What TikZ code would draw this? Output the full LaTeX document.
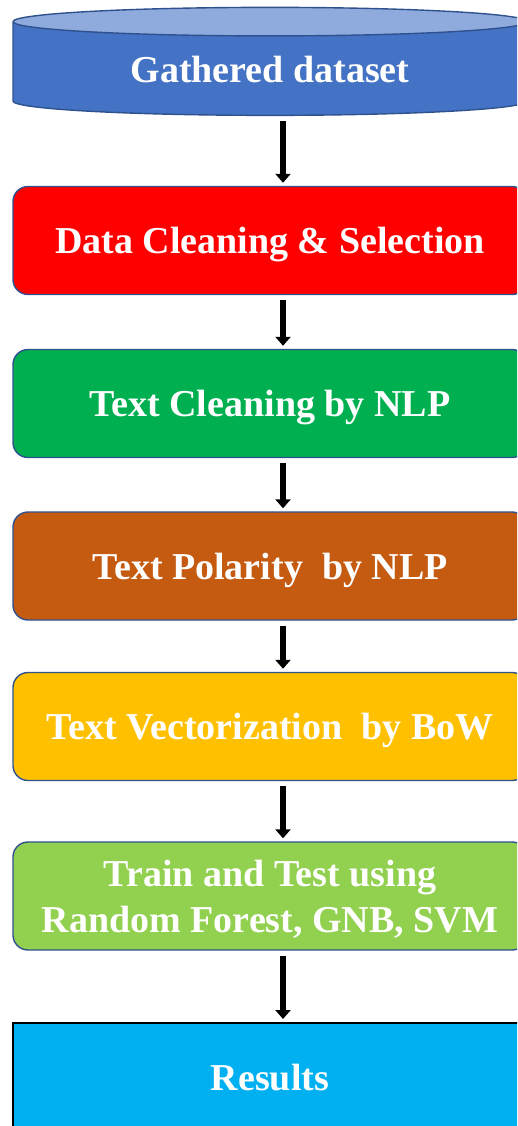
\documentclass[tikz,border=0pt]{standalone}
\usepackage{fontspec}
\setmainfont{Liberation Serif}
\usetikzlibrary{shapes.geometric}
\usetikzlibrary{arrows.meta}
\definecolor{cylbody}{HTML}{4472C4}
\definecolor{cyltop}{HTML}{8FAADC}
\definecolor{edgeblue}{HTML}{2F528F}
\definecolor{cleanred}{HTML}{FF0000}
\definecolor{nlpgreen}{HTML}{00B050}
\definecolor{polbrown}{HTML}{C55A11}
\definecolor{bowyellow}{HTML}{FFC000}
\definecolor{trainlime}{HTML}{92D050}
\definecolor{resblue}{HTML}{00B0F0}

\begin{document}
\begin{tikzpicture}[x=1pt, y=-1pt, >={Triangle[width=15pt,length=9pt]},
        stage/.style={rectangle, rounded corners=15pt, draw=edgeblue, line width=1.4pt,
            minimum width=514pt, minimum height=108pt, text=white, align=center, text depth=0pt,
            font=\bfseries\fontsize{38}{46}\selectfont},
        flow/.style={->, draw=black, line width=5.5pt, shorten <=5pt, shorten >=3pt}]
        \useasboundingbox (0,0) rectangle (517,1126);
        \clip (0,0) rectangle (517,1126);
        \node[cylinder, shape border rotate=90, aspect=0.1, draw=edgeblue, line width=1.4pt,
            cylinder uses custom fill, cylinder body fill=cylbody, cylinder end fill=cyltop,
            minimum width=514pt, minimum height=108pt, text=white,
            font=\bfseries\fontsize{38}{46}\selectfont] (data) at (270,70) {Gathered dataset};
        \node[stage, fill=cleanred] (select) at (270,240.5) {Data Cleaning \& Selection};
        \node[stage, fill=nlpgreen] (clean) at (270,403.5) {Text Cleaning by NLP};
        \node[stage, fill=polbrown] (polar) at (270,566) {Text Polarity\hspace{0.25em} by NLP};
        \node[stage, fill=bowyellow] (bow) at (270,726.5) {Text Vectorization\hspace{0.25em} by BoW};
        \node[stage, fill=trainlime] (train) at (270,896) {Train and Test using\\Random Forest, GNB, SVM};
        \node[stage, rounded corners=0pt, draw=black, line width=2pt, fill=resblue] (result) at (270,1077) {Results};

        \draw ([xshift=13pt]data.south) edge[flow] ([xshift=13pt]select.north);
        \draw ([xshift=13pt]select.south) edge[flow] ([xshift=13pt]clean.north);
        \draw ([xshift=13pt]clean.south) edge[flow] ([xshift=13pt]polar.north);
        \draw ([xshift=13pt]polar.south) edge[flow] ([xshift=13pt]bow.north);
        \draw ([xshift=13pt]bow.south) edge[flow] ([xshift=13pt]train.north);
        \draw ([xshift=13pt]train.south) edge[flow] ([xshift=13pt]result.north);
    \end{tikzpicture}
\end{document}
